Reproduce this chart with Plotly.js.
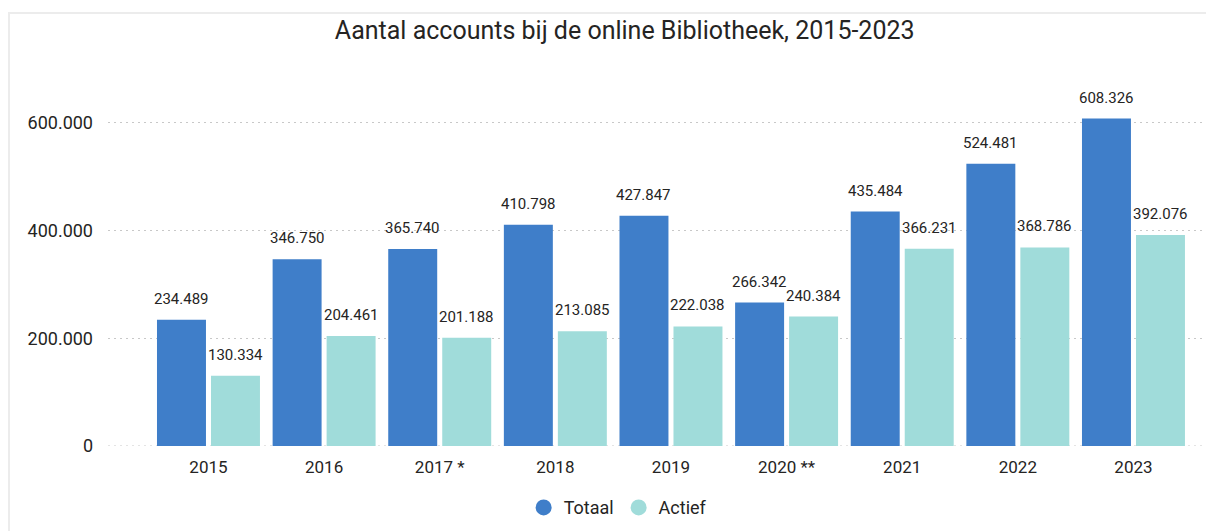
<!DOCTYPE html>
<html>
<head>
<meta charset="utf-8">
<script src="https://cdn.plot.ly/plotly-3.0.1.min.js"></script>
<style>
  html, body { margin: 0; padding: 0; background: #ffffff; }
  #wrap { position: relative; width: 1206px; height: 531px; overflow: hidden; }
  #frame { position: absolute; left: 8px; top: 12px; width: 1198px; height: 519px;
           border-top: 2px solid #ececec; border-left: 2px solid #ececec; box-sizing: border-box; pointer-events: none; }
  #chart { position: absolute; left: 0; top: 0; width: 1206px; height: 531px; }
</style>
</head>
<body>
<div id="wrap">
  <div id="chart"></div>
  <div id="frame"></div>
</div>
<script>
const categories = ['2015', '2016', '2017 *', '2018', '2019', '2020 **', '2021', '2022', '2023'];
const totaal = [234489, 346750, 365740, 410798, 427847, 266342, 435484, 524481, 608326];
const actief = [130334, 204461, 201188, 213085, 222038, 240384, 366231, 368786, 392076];
const seriesNames = ['Totaal', 'Actief'];
const colTotaal = '#3f7ec9';
const colActief = '#a0dcda';
const textCol = '#252423';
const fontFam = 'Roboto, "Noto Sans", sans-serif';

function fmt(v) { return String(v).replace(/\B(?=(\d{3})+(?!\d))/g, '.'); }

const traces = [
  { type: 'bar', name: seriesNames[0], x: categories, y: totaal, marker: { color: colTotaal },
    showlegend: false, hoverinfo: 'skip' },
  { type: 'bar', name: seriesNames[1], x: categories, y: actief, marker: { color: colActief },
    showlegend: false, hoverinfo: 'skip' },
  { type: 'scatter', mode: 'markers', name: seriesNames[0], x: [categories[0]], y: [null],
    marker: { color: colTotaal, size: 16, symbol: 'circle' } },
  { type: 'scatter', mode: 'markers', name: seriesNames[1], x: [categories[0]], y: [null],
    marker: { color: colActief, size: 16, symbol: 'circle' } }
];

const annotations = [];
categories.forEach((c, i) => {
  annotations.push({ x: i, y: totaal[i], xref: 'x', yref: 'y', text: fmt(totaal[i]), showarrow: false,
    xshift: -27, yshift: 21, yanchor: 'middle', xanchor: 'center', font: { family: fontFam, size: 15, color: textCol } });
  annotations.push({ x: i, y: actief[i], xref: 'x', yref: 'y', text: fmt(actief[i]), showarrow: false,
    xshift: 27, yshift: 21, yanchor: 'middle', xanchor: 'center', font: { family: fontFam, size: 15, color: textCol } });
});

const layout = {
  width: 1206, height: 531,
  margin: { l: 108, r: 2, t: 60, b: 85, pad: 0 },
  paper_bgcolor: 'rgba(0,0,0,0)', plot_bgcolor: 'rgba(0,0,0,0)',
  separators: ',.',
  font: { family: fontFam, color: textCol },
  title: { text: 'Aantal accounts bij de online Bibliotheek, 2015-2023', x: 0.518, xref: 'container', xanchor: 'center',
           y: 1 - 30 / 531, yref: 'container', yanchor: 'middle', font: { family: fontFam, size: 25, color: textCol } },
  barmode: 'group', bargap: 0.066, bargroupgap: 0.093,
  xaxis: { type: 'category', range: [-0.869, 8.61], showgrid: false, zeroline: false, showline: false, ticks: '',
           tickfont: { family: fontFam, size: 17, color: textCol }, ticklabelstandoff: 9, fixedrange: true },
  yaxis: { range: [0, 717000], tickvals: [0, 200000, 400000, 600000], tickformat: ',', showgrid: true,
           gridcolor: '#c8c8c8', gridwidth: 1, griddash: '2px,4px', zeroline: false, showline: false, ticks: '',
           tickfont: { family: fontFam, size: 18, color: textCol }, ticklabelstandoff: 14, fixedrange: true },
  shapes: [
    { type: 'line', xref: 'paper', yref: 'y', x0: 0, x1: 1, y0: 0, y1: 0, layer: 'below',
      line: { color: '#c8c8c8', width: 1, dash: '2px,4px' } }
  ],
  legend: { orientation: 'h', x: 0.465, xanchor: 'center', y: -0.16, yanchor: 'middle', itemsizing: 'trace',
            font: { family: fontFam, size: 18, color: textCol }, bgcolor: 'rgba(0,0,0,0)', itemclick: false, itemdoubleclick: false },
  annotations: annotations,
  showlegend: true
};

Plotly.newPlot('chart', traces, layout, { displayModeBar: false, staticPlot: true });
</script>
</body>
</html>
